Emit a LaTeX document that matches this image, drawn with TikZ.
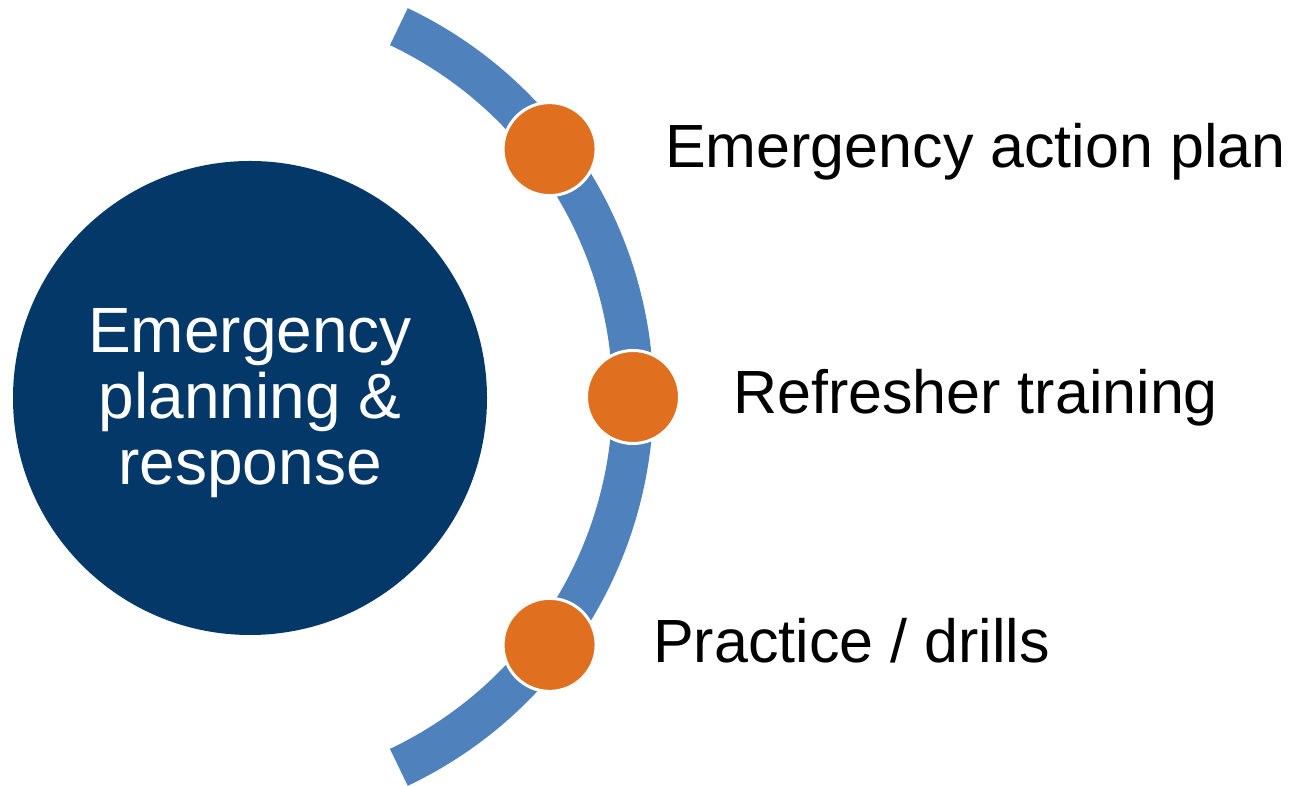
\documentclass[tikz,border=0pt]{standalone}
\usepackage{fontspec}
\setmainfont{Liberation Sans}
\definecolor{navy}{RGB}{3,56,104}
\definecolor{bandblue}{RGB}{79,129,189}
\definecolor{dotorange}{RGB}{224,112,32}
\begin{document}
\begin{tikzpicture}[x=1pt,y=1pt,
  hub/.style={circle,fill=navy,minimum size=474pt,inner sep=0pt},
  hubtext/.style={inner sep=0pt,text=white,align=center,font=\fontsize{64}{66}\selectfont},
  dot/.style={circle,fill=dotorange,draw=white,line width=3pt,minimum size=93pt,inner sep=0pt},
  item/.style={anchor=base west,inner sep=0pt,text=black,font=\fontsize{61}{66}\selectfont},
  band/.style={draw=bandblue,line width=41pt}]
\useasboundingbox (0,0) rectangle (1293,786);
\coordinate (o) at (223,389);
\node[hub] (h) at (250,388) {};
\node[hubtext] (ht) at (250,383) {Emergency\\planning \&\\response};
\draw[band] ([shift={(-64.6:410)}]o) arc[start angle=-64.6,end angle=64.6,radius=410];
\node[dot] (d1) at ([shift={(37.2:410)}]o) {};
\node[dot] (d2) at ([shift={(0:410)}]o) {};
\node[dot] (d3) at ([shift={(-37.2:410)}]o) {};
\node[item] (t1) at (665,618) {Emergency action plan};
\node[item] (t2) at (733,372) {Refresher training};
\node[item] (t3) at (653,123) {Practice / drills};
\end{tikzpicture}
\end{document}
